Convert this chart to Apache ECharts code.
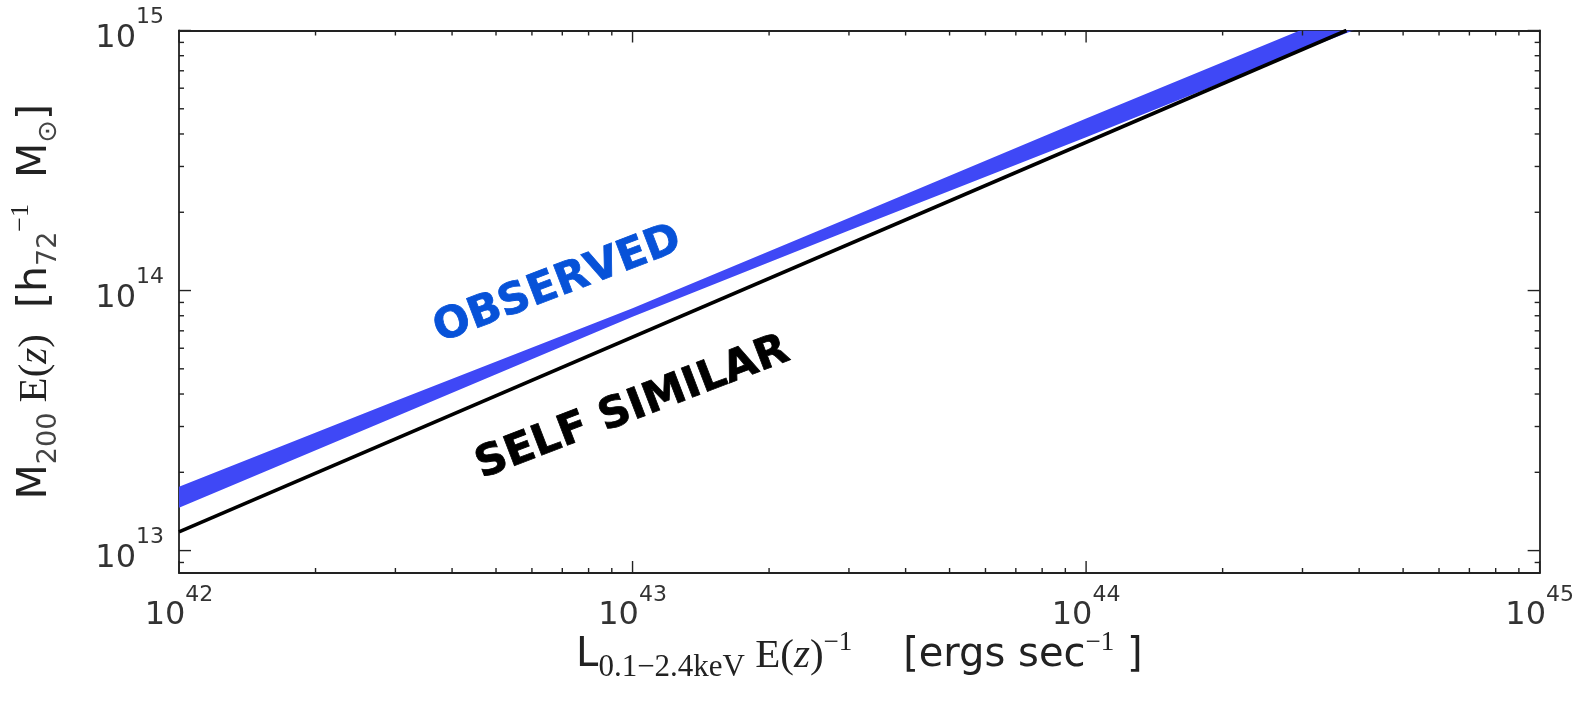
<!DOCTYPE html>
<html>
<head>
<meta charset="utf-8">
<script src="https://cdn.jsdelivr.net/npm/echarts@6/dist/echarts.min.js"></script>
<style>
  html, body { margin: 0; padding: 0; background: #ffffff; }
  #main { width: 1577px; height: 710px; }
</style>
</head>
<body>
<div id="main"></div>
<script>
// Axis ranges
const lumRange = [1e42, 1e45];          // L_0.1-2.4keV E(z)^-1 [erg s^-1]
const massRange = [8.2e12, 1e15];       // M200 E(z) [h72^-1 Msun]

// Major (labelled) decades
const lumDecades = [1e42, 1e43, 1e44, 1e45];
const massDecades = [1e13, 1e14, 1e15];

// Self-similar relation
const selfSimilarL = [1e42, 3.75e44];
const selfSimilarM = [1.18e13, 1e15];

// Observed relation, confidence envelope
const observedL     = [1e42,    3e42,    1e43,    3e43,    1e44,    3e44,    5e44];
const observedUpper = [1.76e13, 3.76e13, 8.55e13, 1.90e14, 4.59e14, 1.01e15, 1.47e15];
const observedLower = [1.46e13, 3.27e13, 7.93e13, 1.70e14, 3.89e14, 8.39e14, 1.19e15];

// In-plot annotations
const annotationText  = ['OBSERVED', 'SELF SIMILAR'];
const annotationL     = [6.84e42, 1.0e43];
const annotationM     = [1.05e14, 3.52e13];
const annotationColor = ['#0752d8', '#000000'];

const INK = '#222222';

// Tick marks on all four sides: majors at decades, minors at 2..9 x decade
const ticks = [];
function addTicks(axis, range, decades) {
  decades.forEach(v => ticks.push({ axis, v, major: true }));
  const lo = Math.floor(Math.log10(range[0]));
  const hi = Math.ceil(Math.log10(range[1]));
  for (let e = lo; e < hi; e++) {
    for (let k = 2; k <= 9; k++) {
      const v = k * Math.pow(10, e);
      if (v > range[0] && v < range[1]) ticks.push({ axis, v, major: false });
    }
  }
}
addTicks('x', lumRange, lumDecades);
addTicks('y', massRange, massDecades);

function decadeLabel(v) {
  const e = Math.log10(v);
  if (Math.abs(e - Math.round(e)) > 1e-6) return '';
  return '{b|10}{s|' + Math.round(e) + '}';
}

const tickRich = {
  b: { fontFamily: 'DejaVu Sans', fontSize: 32, color: '#333', lineHeight: 48, verticalAlign: 'bottom' },
  s: { fontFamily: 'DejaVu Sans', fontSize: 22, color: '#333', lineHeight: 24, verticalAlign: 'top' }
};

const chart = echarts.init(document.getElementById('main'), null, { renderer: 'canvas' });

const option = {
  backgroundColor: '#ffffff',
  animation: false,
  grid: { left: 179, right: 37, top: 30.5, bottom: 137, containLabel: false },
  xAxis: [{
    type: 'log', logBase: 10, min: lumRange[0], max: lumRange[1],
    position: 'bottom',
    axisLine: { show: true, onZero: false, lineStyle: { color: INK, width: 1.8 } },
    axisTick: { show: false },
    splitLine: { show: false },
    axisLabel: { formatter: decadeLabel, rich: tickRich, margin: 11, showMinLabel: true, showMaxLabel: true },
    name: '{a|L}{sub|0.1\u22122.4keV}{m| E(}{mi|z}{m|)}{sup|\u22121}{a|    [ergs sec}{sup|\u22121}{a| ]}',
    nameLocation: 'middle',
    nameGap: 56,
    nameMoveOverlap: false,
    nameTextStyle: {
      rich: {
        a:   { fontFamily: 'DejaVu Sans', fontSize: 40, color: INK, lineHeight: 54, verticalAlign: 'middle' },
        m:   { fontFamily: 'Liberation Serif', fontSize: 41, color: INK, lineHeight: 54, verticalAlign: 'middle' },
        mi:  { fontFamily: 'Liberation Serif', fontStyle: 'italic', fontSize: 41, color: INK, lineHeight: 54, verticalAlign: 'middle' },
        sub: { fontFamily: 'Liberation Serif', fontSize: 31, color: INK, lineHeight: 28, verticalAlign: 'bottom' },
        sup: { fontFamily: 'Liberation Serif', fontSize: 27, color: INK, lineHeight: 24, verticalAlign: 'top' }
      }
    }
  }, {
    type: 'log', logBase: 10, min: lumRange[0], max: lumRange[1],
    position: 'top',
    axisLine: { show: true, onZero: false, lineStyle: { color: INK, width: 1.8 } },
    axisTick: { show: false }, axisLabel: { show: false }, splitLine: { show: false }
  }],
  yAxis: [{
    type: 'log', logBase: 10, min: massRange[0], max: massRange[1],
    position: 'left',
    axisLine: { show: true, onZero: false, lineStyle: { color: INK, width: 1.8 } },
    axisTick: { show: false },
    splitLine: { show: false },
    axisLabel: { formatter: decadeLabel, rich: tickRich, margin: 15, showMinLabel: true, showMaxLabel: true },
    name: '{a|M}{sub|200}{m| E(}{mi|z}{m|)}{a|  [h}{sub|72}{sup|\u22121}{a|  M}{sub|\u2299}{a|]}',
    nameLocation: 'middle',
    nameGap: 117,
    nameTextStyle: {
      rich: {
        a:   { fontFamily: 'DejaVu Sans', fontSize: 41, color: INK, lineHeight: 54, verticalAlign: 'middle' },
        m:   { fontFamily: 'Liberation Serif', fontSize: 41, color: INK, lineHeight: 54, verticalAlign: 'middle' },
        mi:  { fontFamily: 'Liberation Serif', fontStyle: 'italic', fontSize: 41, color: INK, lineHeight: 54, verticalAlign: 'middle' },
        sub: { fontFamily: 'DejaVu Sans', fontSize: 27, color: '#444', lineHeight: 28, verticalAlign: 'bottom' },
        sup: { fontFamily: 'Liberation Serif', fontSize: 26, color: INK, lineHeight: 24, verticalAlign: 'top' }
      }
    }
  }, {
    type: 'log', logBase: 10, min: massRange[0], max: massRange[1],
    position: 'right',
    axisLine: { show: true, onZero: false, lineStyle: { color: INK, width: 1.8 } },
    axisTick: { show: false }, axisLabel: { show: false }, splitLine: { show: false }
  }],
  series: [
    {
      // observed envelope
      type: 'custom',
      name: 'Observed',
      xAxisIndex: 0, yAxisIndex: 0,
      clip: true,
      z: 2,
      data: [[observedL[0], observedUpper[0]]],
      renderItem: function (params, api) {
        const pts = [];
        for (let i = 0; i < observedL.length; i++) pts.push(api.coord([observedL[i], observedUpper[i]]));
        for (let i = observedL.length - 1; i >= 0; i--) pts.push(api.coord([observedL[i], observedLower[i]]));
        const cs = params.coordSys;
        return {
          type: 'polygon',
          shape: { points: pts },
          style: { fill: '#3f48f6', stroke: null },
          clipPath: { type: 'rect', shape: { x: cs.x, y: cs.y, width: cs.width, height: cs.height } }
        };
      }
    },
    {
      type: 'line',
      name: 'Self similar',
      xAxisIndex: 0, yAxisIndex: 0,
      data: selfSimilarL.map((l, i) => [l, selfSimilarM[i]]),
      showSymbol: false, symbol: 'none',
      lineStyle: { color: '#000', width: 3.6 },
      z: 3
    },
    {
      // labels
      type: 'scatter',
      xAxisIndex: 0, yAxisIndex: 0,
      symbolSize: 0,
      itemStyle: { opacity: 1 },
      z: 4,
      data: annotationText.map((t, i) => ({
        value: [annotationL[i], annotationM[i]],
        label: {
          show: true, position: 'inside', formatter: t, rotate: 21,
          fontFamily: 'DejaVu Sans', fontWeight: 'bold', fontSize: 43,
          color: annotationColor[i], align: 'center', verticalAlign: 'middle',
          textBorderColor: annotationColor[i], textBorderWidth: 0.8, opacity: 1
        }
      }))
    },
    {
      // frame ticks
      type: 'custom',
      xAxisIndex: 0, yAxisIndex: 0,
      clip: false,
      z: 5,
      silent: true,
      data: ticks.map(() => [lumRange[0], massRange[1]]),
      renderItem: function (params, api) {
        const t = ticks[params.dataIndex];
        const len = t.major ? 12 : 5;
        const style = { stroke: INK, lineWidth: 1.4 };
        if (t.axis === 'x') {
          const b = api.coord([t.v, massRange[0]]);
          const tp = api.coord([t.v, massRange[1]]);
          return { type: 'group', children: [
            { type: 'line', shape: { x1: b[0], y1: b[1], x2: b[0], y2: b[1] - len }, style },
            { type: 'line', shape: { x1: tp[0], y1: tp[1], x2: tp[0], y2: tp[1] + len }, style }
          ]};
        }
        const l = api.coord([lumRange[0], t.v]);
        const r = api.coord([lumRange[1], t.v]);
        return { type: 'group', children: [
          { type: 'line', shape: { x1: l[0], y1: l[1], x2: l[0] + len, y2: l[1] }, style },
          { type: 'line', shape: { x1: r[0], y1: r[1], x2: r[0] - len, y2: r[1] }, style }
        ]};
      }
    }
  ]
};

chart.setOption(option);
</script>
</body>
</html>
